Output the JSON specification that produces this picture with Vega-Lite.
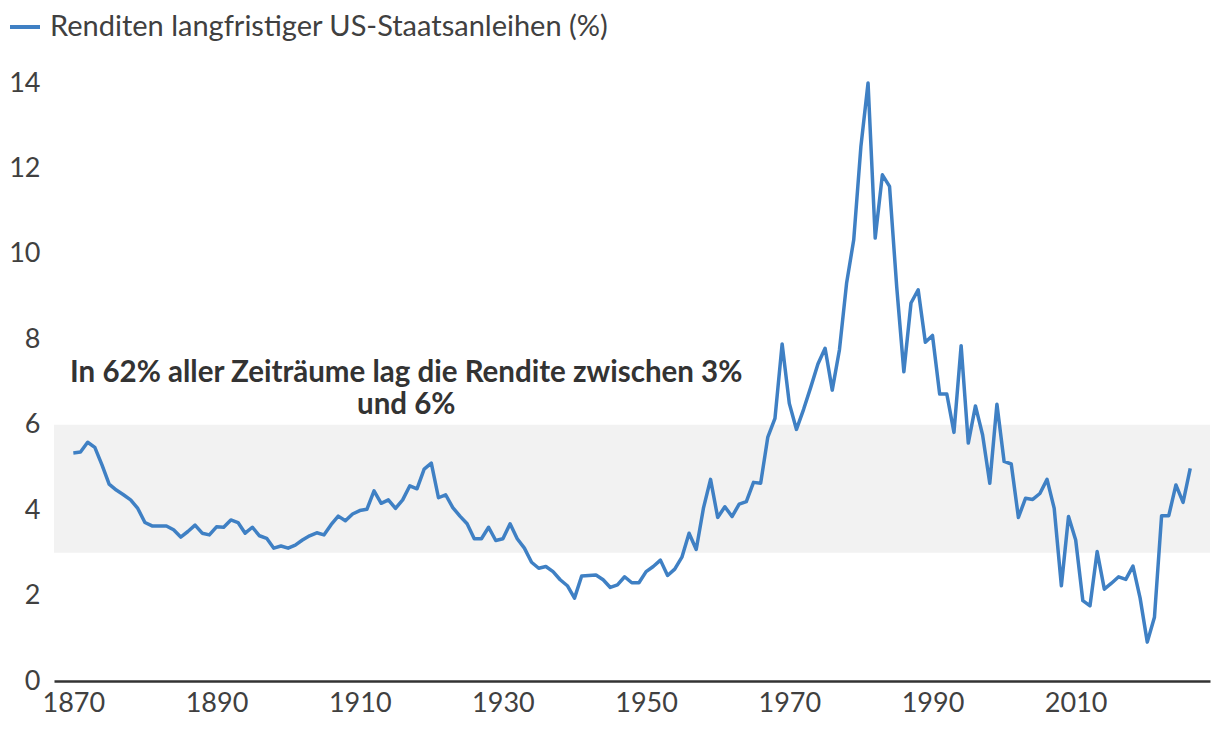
{
  "$schema": "https://vega.github.io/schema/vega-lite/v6.json",
  "width": 1156,
  "height": 598,
  "autosize": {"type": "none"},
  "padding": {"left": 54, "top": 83, "right": 10, "bottom": 51},
  "background": "white",
  "config": {
    "view": {"stroke": null},
    "font": "Lato",
    "axis": {"labelFont": "Lato", "labelColor": "#404040", "labelFontSize": 27, "grid": false, "ticks": false, "title": null}
  },
  "datasets": {
    "yields": [
      {"year": 1870, "value": 5.34}, {"year": 1871, "value": 5.36}, {"year": 1872, "value": 5.59}, {"year": 1873, "value": 5.47},
      {"year": 1874, "value": 5.06}, {"year": 1875, "value": 4.61}, {"year": 1876, "value": 4.47}, {"year": 1877, "value": 4.36},
      {"year": 1878, "value": 4.24}, {"year": 1879, "value": 4.04}, {"year": 1880, "value": 3.71}, {"year": 1881, "value": 3.63},
      {"year": 1882, "value": 3.63}, {"year": 1883, "value": 3.63}, {"year": 1884, "value": 3.54}, {"year": 1885, "value": 3.37},
      {"year": 1886, "value": 3.50}, {"year": 1887, "value": 3.65}, {"year": 1888, "value": 3.46}, {"year": 1889, "value": 3.42},
      {"year": 1890, "value": 3.61}, {"year": 1891, "value": 3.60}, {"year": 1892, "value": 3.77}, {"year": 1893, "value": 3.71},
      {"year": 1894, "value": 3.46}, {"year": 1895, "value": 3.60}, {"year": 1896, "value": 3.40}, {"year": 1897, "value": 3.34},
      {"year": 1898, "value": 3.11}, {"year": 1899, "value": 3.16}, {"year": 1900, "value": 3.11}, {"year": 1901, "value": 3.18},
      {"year": 1902, "value": 3.30}, {"year": 1903, "value": 3.40}, {"year": 1904, "value": 3.47}, {"year": 1905, "value": 3.42},
      {"year": 1906, "value": 3.66}, {"year": 1907, "value": 3.86}, {"year": 1908, "value": 3.75}, {"year": 1909, "value": 3.91},
      {"year": 1910, "value": 3.99}, {"year": 1911, "value": 4.02}, {"year": 1912, "value": 4.45}, {"year": 1913, "value": 4.16},
      {"year": 1914, "value": 4.24}, {"year": 1915, "value": 4.04}, {"year": 1916, "value": 4.24}, {"year": 1917, "value": 4.57},
      {"year": 1918, "value": 4.50}, {"year": 1919, "value": 4.96}, {"year": 1920, "value": 5.10}, {"year": 1921, "value": 4.29},
      {"year": 1922, "value": 4.36}, {"year": 1923, "value": 4.06}, {"year": 1924, "value": 3.86}, {"year": 1925, "value": 3.68},
      {"year": 1926, "value": 3.33}, {"year": 1927, "value": 3.33}, {"year": 1928, "value": 3.60}, {"year": 1929, "value": 3.29},
      {"year": 1930, "value": 3.33}, {"year": 1931, "value": 3.68}, {"year": 1932, "value": 3.33}, {"year": 1933, "value": 3.11},
      {"year": 1934, "value": 2.78}, {"year": 1935, "value": 2.64}, {"year": 1936, "value": 2.68}, {"year": 1937, "value": 2.56},
      {"year": 1938, "value": 2.37}, {"year": 1939, "value": 2.23}, {"year": 1940, "value": 1.94}, {"year": 1941, "value": 2.46},
      {"year": 1942, "value": 2.47}, {"year": 1943, "value": 2.48}, {"year": 1944, "value": 2.37}, {"year": 1945, "value": 2.19},
      {"year": 1946, "value": 2.25}, {"year": 1947, "value": 2.44}, {"year": 1948, "value": 2.30}, {"year": 1949, "value": 2.30},
      {"year": 1950, "value": 2.56}, {"year": 1951, "value": 2.68}, {"year": 1952, "value": 2.83}, {"year": 1953, "value": 2.47},
      {"year": 1954, "value": 2.62}, {"year": 1955, "value": 2.90}, {"year": 1956, "value": 3.46}, {"year": 1957, "value": 3.08},
      {"year": 1958, "value": 4.04}, {"year": 1959, "value": 4.72}, {"year": 1960, "value": 3.83}, {"year": 1961, "value": 4.08},
      {"year": 1962, "value": 3.85}, {"year": 1963, "value": 4.14}, {"year": 1964, "value": 4.20}, {"year": 1965, "value": 4.65},
      {"year": 1966, "value": 4.63}, {"year": 1967, "value": 5.71}, {"year": 1968, "value": 6.15}, {"year": 1969, "value": 7.89},
      {"year": 1970, "value": 6.50}, {"year": 1971, "value": 5.89}, {"year": 1972, "value": 6.36}, {"year": 1973, "value": 6.88},
      {"year": 1974, "value": 7.42}, {"year": 1975, "value": 7.79}, {"year": 1976, "value": 6.81}, {"year": 1977, "value": 7.75},
      {"year": 1978, "value": 9.31}, {"year": 1979, "value": 10.33}, {"year": 1980, "value": 12.51}, {"year": 1981, "value": 14.0},
      {"year": 1982, "value": 10.37}, {"year": 1983, "value": 11.85}, {"year": 1984, "value": 11.58}, {"year": 1985, "value": 9.23},
      {"year": 1986, "value": 7.24}, {"year": 1987, "value": 8.85}, {"year": 1988, "value": 9.16}, {"year": 1989, "value": 7.93},
      {"year": 1990, "value": 8.09}, {"year": 1991, "value": 6.72}, {"year": 1992, "value": 6.72}, {"year": 1993, "value": 5.82},
      {"year": 1994, "value": 7.85}, {"year": 1995, "value": 5.57}, {"year": 1996, "value": 6.44}, {"year": 1997, "value": 5.76},
      {"year": 1998, "value": 4.63}, {"year": 1999, "value": 6.48}, {"year": 2000, "value": 5.14}, {"year": 2001, "value": 5.08},
      {"year": 2002, "value": 3.83}, {"year": 2003, "value": 4.28}, {"year": 2004, "value": 4.25}, {"year": 2005, "value": 4.39},
      {"year": 2006, "value": 4.72}, {"year": 2007, "value": 4.04}, {"year": 2008, "value": 2.23}, {"year": 2009, "value": 3.85},
      {"year": 2010, "value": 3.30}, {"year": 2011, "value": 1.88}, {"year": 2012, "value": 1.76}, {"year": 2013, "value": 3.03},
      {"year": 2014, "value": 2.15}, {"year": 2015, "value": 2.29}, {"year": 2016, "value": 2.44}, {"year": 2017, "value": 2.38},
      {"year": 2018, "value": 2.69}, {"year": 2019, "value": 1.94}, {"year": 2020, "value": 0.91}, {"year": 2021, "value": 1.49},
      {"year": 2022, "value": 3.87}, {"year": 2023, "value": 3.87}, {"year": 2024, "value": 4.59}, {"year": 2025, "value": 4.18},
      {"year": 2026, "value": 4.98}
    ],
    "band": [
      {"low": 3, "high": 6}
    ],
    "note": [
      {"year": 1916.5, "value": 7.01, "label": "In 62% aller Zeiträume lag die Rendite zwischen 3%\nund 6%"}
    ]
  },
  "layer": [
    {
      "data": {"name": "band"},
      "mark": {"type": "rect", "color": "#f2f2f2"},
      "encoding": {
        "y": {"field": "low", "type": "quantitative", "scale": {"domain": [0, 14]}},
        "y2": {"field": "high"}
      }
    },
    {
      "data": {"name": "yields"},
      "mark": {"type": "line", "strokeWidth": 3.5, "strokeJoin": "round"},
      "encoding": {
        "x": {
          "field": "year",
          "type": "quantitative",
          "scale": {"domain": [1867.3, 2028.76], "nice": false, "zero": false},
          "axis": {
            "values": [1870, 1890, 1910, 1930, 1950, 1970, 1990, 2010],
            "format": "d",
            "domainColor": "#333333",
            "domainWidth": 2.5,
            "labelPadding": 9
          }
        },
        "y": {
          "field": "value",
          "type": "quantitative",
          "scale": {"domain": [0, 14], "nice": false},
          "axis": {
            "values": [0, 2, 4, 6, 8, 10, 12, 14],
            "domain": false,
            "labelPadding": 14
          }
        },
        "color": {
          "datum": "Renditen langfristiger US-Staatsanleihen (%)",
          "type": "nominal",
          "scale": {"range": ["#3f80c4"]},
          "legend": {
            "orient": "none",
            "legendX": -46,
            "legendY": -73,
            "title": null,
            "symbolType": "stroke",
            "symbolSize": 900,
            "symbolStrokeWidth": 4,
            "labelFont": "Lato",
            "labelFontSize": 29,
            "labelColor": "#404040",
            "labelLimit": 800,
            "labelOffset": 8
          }
        }
      }
    },
    {
      "data": {"name": "note"},
      "mark": {
        "type": "text",
        "font": "Lato",
        "fontSize": 29.5,
        "fontWeight": "bold",
        "color": "#333333",
        "align": "center",
        "baseline": "alphabetic",
        "lineBreak": "\n",
        "lineHeight": 32
      },
      "encoding": {
        "x": {"field": "year", "type": "quantitative"},
        "y": {"field": "value", "type": "quantitative"},
        "text": {"field": "label"}
      }
    }
  ]
}
